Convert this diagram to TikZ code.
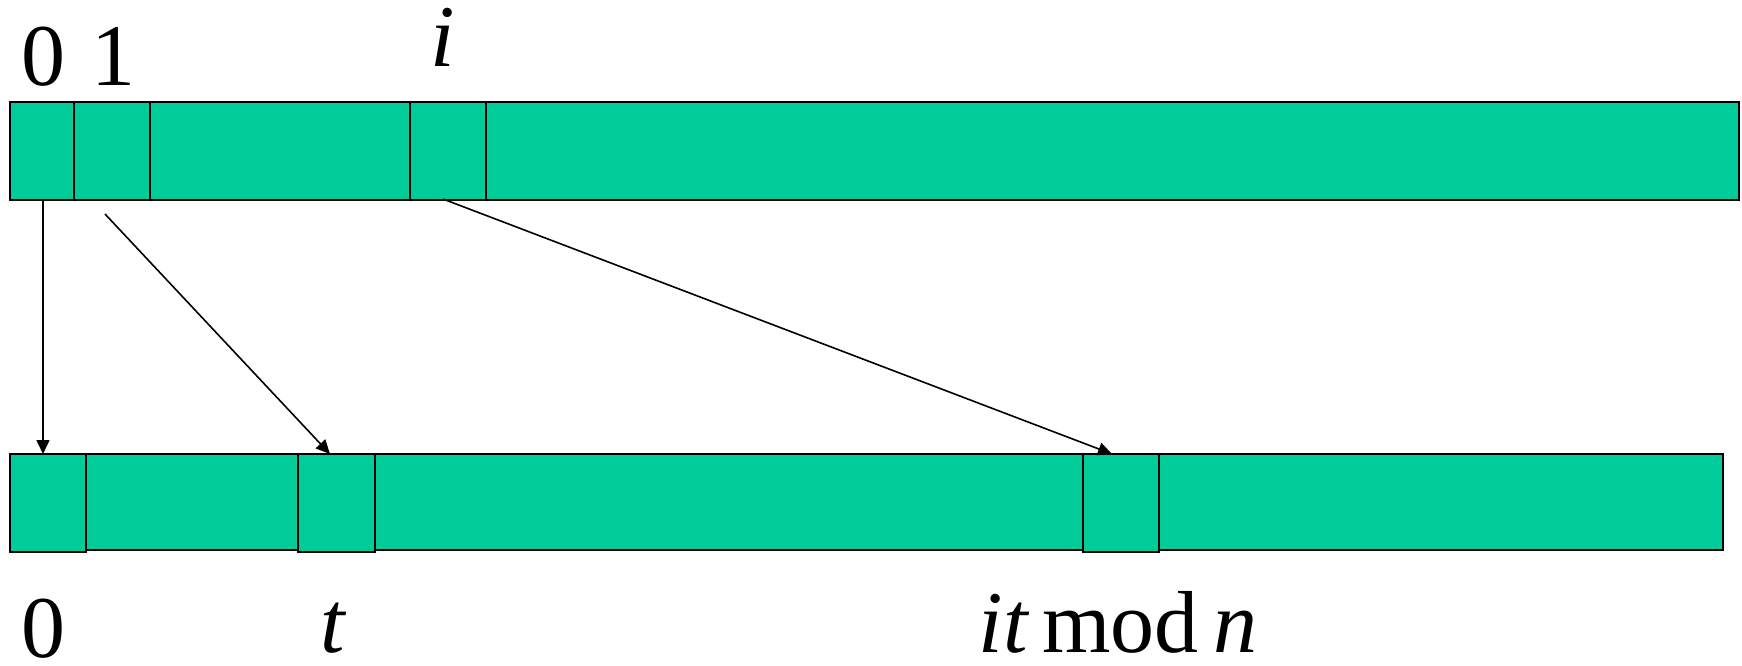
\documentclass[tikz,border=0pt]{standalone}
\usepackage{fontspec}
\setmainfont{Liberation Serif}
\usetikzlibrary{arrows.meta}
\definecolor{barfill}{HTML}{00CC99}
\begin{document}
\begin{tikzpicture}[x=0.5pt,y=-0.5pt,
  bar/.style={draw=black,fill=barfill,line width=1pt},
  lbl/.style={anchor=base,inner sep=0pt,font=\fontsize{44}{48}\selectfont},
  conn/.style={line width=0.8pt,-{Triangle[length=7pt,width=6.5pt]}}]
\useasboundingbox (0,0) rectangle (1742,665);
% top row
\path[bar] (10,102) rectangle (1739,200);
\path[bar] (10,102) rectangle (74,200);
\path[bar] (74,102) rectangle (150,200);
\path[bar] (410,102) rectangle (486,200);
\coordinate (a0) at (43,200);
\coordinate (a1) at (105,214);
\coordinate (ai) at (443,199);
% bottom row
\path[bar] (10,454) rectangle (1723,550);
\path[bar] (10,454) rectangle (86,552);
\path[bar] (298,454) rectangle (375,552);
\path[bar] (1083,454) rectangle (1159,552);
\coordinate (b0) at (43,454);
\coordinate (bt) at (330,454);
\coordinate (bi) at (1112,454);
% labels
\node[lbl] (l0) at (43,85) {0};
\node[lbl] (l1) at (113,85) {1};
\node[lbl] (li) at (443,66) {\itshape i};
\node[lbl] (m0) at (43,657) {0};
\node[lbl] (mt) at (333,652) {\itshape t};
\node[lbl] (mi) at (1118,652) {\itshape it\,\upshape mod\,\itshape n};
% connectors
\draw[conn] (a0) -- (b0);
\draw[conn] (a1) -- (bt);
\draw[conn] (ai) -- (bi);
\end{tikzpicture}
\end{document}
